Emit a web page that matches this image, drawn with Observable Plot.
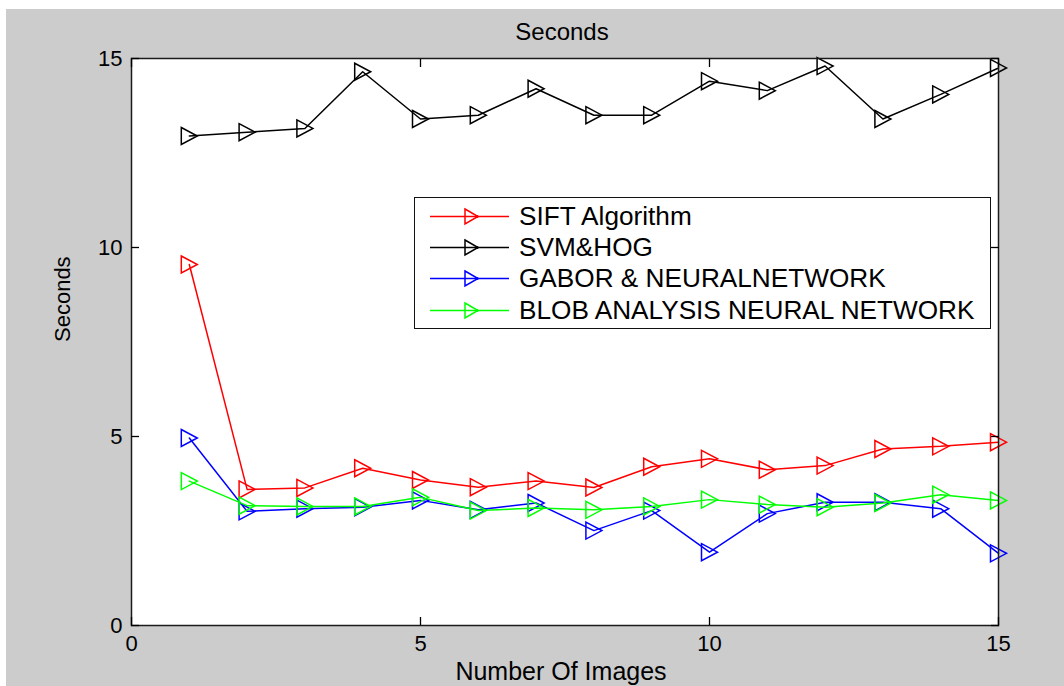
<!DOCTYPE html>
<html><head><meta charset="utf-8">
<script src="https://cdn.jsdelivr.net/npm/d3@7"></script>
<script src="https://cdn.jsdelivr.net/npm/@observablehq/plot@0.6"></script>
<style>
html,body{margin:0;padding:0;background:#fff;}
#wrap{position:relative;width:1064px;height:686px;overflow:hidden;}
#chart{position:absolute;left:6px;top:9px;}
#legend{position:absolute;left:414px;top:197px;width:577px;height:132px;box-sizing:border-box;border:1.5px solid #111;background:#fff;padding-top:2.5px;font-family:"Liberation Sans",Arial,sans-serif;font-size:26.2px;color:#000;}
.row{display:flex;align-items:center;height:31.3px;white-space:nowrap;}
.row svg{flex:none;display:block;}
</style></head><body>
<div id="wrap"><div id="chart"></div><div id="legend"></div></div>
<script>
// ---- data ----
const seriesNames = ["SIFT Algorithm", "SVM&HOG", "GABOR & NEURALNETWORK", "BLOB ANALYSIS NEURAL NETWORK"];
const seriesColors = ["#ff0000", "#000000", "#0000ff", "#00ff00"];
const images = [1, 2, 3, 4, 5, 6, 7, 8, 9, 10, 11, 12, 13, 14, 15];
const sift   = [9.55, 3.60, 3.64, 4.16, 3.85, 3.66, 3.82, 3.65, 4.20, 4.41, 4.12, 4.23, 4.67, 4.74, 4.85];
const svmHog = [12.95, 13.05, 13.15, 14.65, 13.40, 13.50, 14.20, 13.50, 13.50, 14.40, 14.15, 14.80, 13.40, 14.05, 14.75];
const gabor  = [4.96, 3.02, 3.09, 3.13, 3.31, 3.06, 3.24, 2.51, 3.04, 1.94, 2.96, 3.26, 3.26, 3.09, 1.91];
const blob   = [3.82, 3.17, 3.15, 3.15, 3.39, 3.04, 3.11, 3.06, 3.15, 3.33, 3.20, 3.13, 3.24, 3.46, 3.31];
const xTicks = [0, 5, 10, 15];
const yTicks = [0, 5, 10, 15];
const titleText = "Seconds";
const xLabel = "Number Of Images";
const yLabel = "Seconds";

const seriesValues = [sift, svmHog, gabor, blob];
const data = seriesNames.flatMap((name, s) =>
  images.map((img, i) => ({series: name, image: img, value: seriesValues[s][i]})));

// MATLAB-like '>' marker
const rightTriangle = {
  draw(context, size) {
    const k = Math.sqrt(size / Math.PI) / 8.5;
    context.moveTo(-8 * k, -8.5 * k);
    context.lineTo(8 * k, 0);
    context.lineTo(-8 * k, 8.5 * k);
    context.closePath();
  }
};

const seriesMarks = seriesNames.flatMap(name => [
  Plot.line(data, {filter: d => d.series === name, x: "image", y: "value", stroke: "series", strokeWidth: 1.5}),
  Plot.dot(data, {filter: d => d.series === name, x: "image", y: "value", stroke: "series",
    symbol: rightTriangle, r: 8.5, strokeWidth: 1.5, fill: "none"})
]);

const chart = Plot.plot({
  width: 1058, height: 677,
  marginLeft: 125, marginRight: 66, marginTop: 49, marginBottom: 61,
  style: {background: "#cccccc", fontFamily: "'Liberation Sans', Arial, sans-serif", fontSize: "22px", color: "#000", overflow: "visible"},
  x: {domain: [0, 15]},
  y: {domain: [0, 15]},
  color: {domain: seriesNames, range: seriesColors},
  marks: [
    Plot.frame({fill: "white", stroke: "none"}),
    ...seriesMarks,
    Plot.frame({stroke: "#1a1a1a", strokeWidth: 1.5}),
    Plot.axisX({anchor: "bottom", ticks: xTicks, tickSize: 8, dy: -8, fill: "none", label: null, strokeWidth: 1.3}),
    Plot.axisX({anchor: "top", ticks: xTicks, tickSize: 8, dy: 8, fill: "none", label: null, strokeWidth: 1.3}),
    Plot.axisY({anchor: "left", ticks: yTicks, tickSize: 8, dx: 8, fill: "none", label: null, strokeWidth: 1.3}),
    Plot.axisY({anchor: "right", ticks: yTicks, tickSize: 8, dx: -8, fill: "none", label: null, strokeWidth: 1.3}),
    Plot.axisX({anchor: "bottom", ticks: xTicks, tickSize: 0, tickPadding: 10, label: null, fontSize: 22}),
    Plot.axisY({anchor: "left", ticks: yTicks, tickSize: 0, tickPadding: 9, label: null, fontSize: 22}),
    Plot.text([titleText], {text: d => d, frameAnchor: "top", lineAnchor: "middle", dy: -26, dx: -3, fontSize: 24}),
    Plot.text([xLabel], {text: d => d, frameAnchor: "bottom", lineAnchor: "middle", dy: 46, dx: -4, fontSize: 25}),
    Plot.text([yLabel], {text: d => d, frameAnchor: "left", dx: -69, rotate: -90, fontSize: 22})
  ]
});
document.getElementById("chart").appendChild(chart);

// ---- legend ----
const legend = d3.select("#legend");
seriesNames.forEach((name, i) => {
  const row = legend.append("div").attr("class", "row");
  const svg = row.append("svg").attr("width", 104).attr("height", 31);
  svg.append("line").attr("x1", 15).attr("x2", 94).attr("y1", 15.5).attr("y2", 15.5)
    .attr("stroke", seriesColors[i]).attr("stroke-width", 1.5);
  svg.append("path").attr("d", "M50,8 L63,15.5 L50,23 Z").attr("fill", "none")
    .attr("stroke", seriesColors[i]).attr("stroke-width", 1.5);
  svg.append("circle").attr("cx", 62).attr("cy", 15.5).attr("r", 1.6).attr("fill", seriesColors[i]);
  row.append("span").text(name);
});
</script>
</body></html>
